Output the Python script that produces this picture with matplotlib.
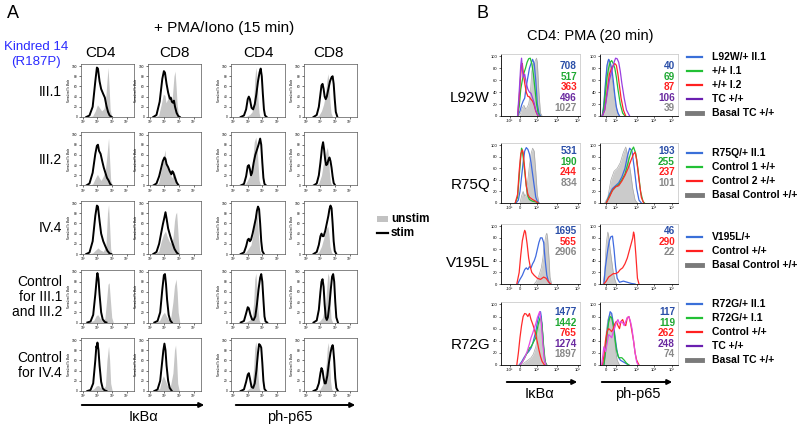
import matplotlib
matplotlib.use("Agg")
import matplotlib.pyplot as plt
from matplotlib.patches import FancyArrowPatch, Rectangle
from matplotlib.lines import Line2D

plt.rcParams["font.family"] = ["Liberation Sans", "DejaVu Sans"]

W, H = 800, 428

# -------------------------
# Panel A data (x in % of axis width, y in % of mode)
# -------------------------
A_ROWS = ["III.1", "III.2", "IV.4", "Control\nfor III.1\nand III.2", "Control\nfor IV.4"]
A_COLS = ["CD4", "CD8", "CD4", "CD8"]
A_XTICK_LABELS = ["10²", "10³", "10⁴", "10⁵"]

cd4_ikb_unstim = [
    [(12, 0), (22, 2), (27, 12), (31, 24), (35, 18), (39, 12), (43, 16), (46, 28), (49, 70), (51, 97), (53, 60), (55, 15), (58, 0)],
    [(12, 0), (22, 3), (27, 14), (31, 22), (35, 14), (38, 10), (42, 18), (46, 30), (49, 60), (52, 93), (54, 50), (56, 10), (59, 0)],
    [(12, 0), (22, 2), (28, 8), (32, 12), (36, 8), (42, 5), (47, 15), (50, 80), (52, 97), (54, 55), (56, 10), (58, 0)],
    [(14, 0), (24, 4), (29, 14), (32, 15), (36, 8), (40, 3), (45, 8), (48, 40), (51, 75), (53, 78), (55, 50), (58, 10), (61, 0)],
    [(14, 0), (24, 4), (29, 10), (33, 11), (37, 6), (41, 3), (46, 10), (49, 60), (52, 88), (54, 60), (56, 15), (59, 0)],
]
cd4_ikb_stim = [
    [(10, 0), (16, 3), (22, 20), (27, 70), (30, 97), (32, 95), (35, 70), (38, 55), (42, 45), (45, 38), (48, 22), (51, 10), (54, 3), (58, 0)],
    [(10, 0), (16, 4), (22, 25), (27, 62), (30, 78), (32, 80), (34, 68), (37, 62), (40, 48), (43, 35), (46, 25), (49, 15), (52, 10), (55, 3), (58, 0)],
    [(10, 0), (16, 3), (22, 25), (27, 75), (30, 95), (32, 93), (35, 65), (38, 40), (42, 25), (46, 15), (50, 6), (54, 1), (57, 0)],
    [(12, 0), (18, 2), (23, 15), (27, 55), (30, 90), (31, 97), (33, 85), (35, 55), (38, 20), (41, 6), (45, 1), (48, 0)],
    [(12, 0), (18, 2), (23, 15), (27, 60), (29, 88), (30, 85), (31, 95), (33, 80), (35, 50), (38, 18), (41, 5), (45, 1), (48, 0)],
]
cd8_ikb_unstim = [
    [(12, 0), (20, 3), (25, 25), (29, 45), (32, 42), (34, 28), (37, 35), (40, 38), (43, 30), (46, 40), (49, 80), (51, 90), (53, 60), (55, 25), (58, 0)],
    [(12, 0), (20, 5), (25, 30), (29, 50), (32, 70), (34, 45), (37, 35), (41, 25), (45, 15), (48, 22), (50, 25), (53, 15), (56, 3), (58, 0)],
    [(12, 0), (20, 5), (25, 25), (29, 38), (33, 45), (36, 35), (40, 25), (44, 20), (47, 30), (50, 65), (52, 78), (54, 82), (56, 50), (59, 0)],
    [(14, 0), (22, 4), (27, 15), (31, 20), (35, 12), (39, 5), (43, 10), (47, 40), (50, 72), (53, 85), (55, 60), (57, 20), (60, 0)],
    [(14, 0), (22, 5), (26, 22), (29, 30), (33, 20), (37, 10), (42, 8), (47, 35), (50, 80), (52, 90), (54, 60), (56, 15), (59, 0)],
]
cd8_ikb_stim = [
    [(10, 0), (16, 4), (22, 30), (27, 75), (30, 90), (32, 87), (35, 65), (38, 48), (41, 36), (43, 38), (45, 30), (47, 28), (49, 32), (51, 20), (54, 8), (57, 2), (60, 0)],
    [(10, 0), (16, 4), (21, 18), (25, 35), (28, 48), (31, 55), (33, 52), (35, 42), (38, 36), (41, 28), (44, 22), (46, 28), (48, 25), (51, 15), (54, 6), (58, 0)],
    [(10, 0), (16, 4), (21, 20), (25, 42), (28, 58), (31, 72), (33, 82), (35, 70), (38, 50), (42, 35), (46, 22), (50, 10), (54, 3), (57, 0)],
    [(12, 0), (18, 3), (23, 20), (27, 65), (30, 93), (32, 95), (34, 75), (36, 45), (39, 15), (42, 4), (45, 0)],
    [(12, 0), (18, 3), (23, 20), (27, 60), (29, 80), (31, 93), (33, 80), (35, 50), (38, 20), (41, 6), (45, 0)],
]
cd4_p65_unstim = [
    [(24, 0), (30, 2), (35, 5), (39, 10), (42, 30), (44, 75), (46, 97), (48, 80), (50, 35), (52, 8), (54, 0)],
    [(22, 0), (28, 5), (33, 15), (37, 25), (40, 45), (43, 85), (46, 95), (48, 80), (50, 45), (52, 10), (55, 0)],
    [(22, 0), (28, 4), (33, 12), (37, 18), (41, 40), (44, 75), (47, 85), (49, 70), (51, 35), (53, 8), (56, 0)],
    [(24, 0), (30, 2), (35, 5), (39, 10), (42, 40), (44, 85), (46, 97), (48, 70), (50, 25), (52, 5), (54, 0)],
    [(24, 0), (30, 2), (35, 6), (39, 12), (42, 45), (44, 85), (46, 97), (48, 75), (50, 30), (52, 6), (54, 0)],
]
cd4_p65_stim = [
    [(18, 0), (24, 3), (28, 15), (31, 35), (33, 40), (35, 35), (38, 18), (41, 15), (44, 25), (47, 45), (50, 70), (53, 88), (55, 95), (57, 80), (59, 45), (61, 15), (63, 3), (66, 0)],
    [(18, 0), (24, 3), (28, 18), (31, 38), (33, 40), (35, 32), (37, 20), (39, 25), (42, 45), (45, 60), (48, 70), (51, 80), (54, 92), (56, 80), (58, 45), (60, 15), (62, 3), (65, 0)],
    [(18, 0), (24, 3), (28, 15), (31, 28), (33, 30), (35, 25), (37, 28), (40, 40), (43, 55), (46, 70), (48, 85), (50, 93), (52, 88), (54, 60), (56, 25), (58, 6), (61, 0)],
    [(18, 0), (24, 3), (28, 18), (31, 30), (33, 28), (36, 15), (39, 6), (42, 5), (45, 12), (48, 35), (51, 65), (54, 88), (56, 95), (58, 80), (60, 45), (62, 12), (64, 2), (67, 0)],
    [(18, 0), (24, 3), (28, 18), (31, 32), (33, 35), (35, 25), (38, 8), (41, 6), (44, 15), (47, 40), (50, 75), (52, 92), (54, 90), (56, 85), (58, 55), (60, 20), (62, 4), (65, 0)],
]
cd8_p65_unstim = [
    [(22, 0), (28, 3), (33, 12), (37, 25), (40, 40), (43, 70), (45, 85), (47, 70), (49, 30), (51, 8), (54, 0)],
    [(22, 0), (28, 5), (33, 20), (36, 40), (39, 55), (42, 68), (44, 75), (46, 60), (48, 25), (50, 6), (53, 0)],
    [(22, 0), (28, 4), (33, 15), (37, 30), (40, 42), (43, 52), (45, 55), (47, 40), (49, 15), (52, 3), (55, 0)],
    [(24, 0), (30, 3), (35, 10), (38, 25), (41, 40), (43, 70), (45, 97), (47, 90), (49, 40), (51, 8), (54, 0)],
    [(24, 0), (30, 3), (35, 12), (39, 30), (42, 55), (44, 85), (46, 95), (48, 65), (50, 20), (52, 4), (55, 0)],
]
cd8_p65_stim = [
    [(18, 0), (24, 4), (28, 20), (31, 45), (33, 62), (35, 65), (37, 55), (39, 40), (41, 35), (43, 40), (46, 55), (49, 70), (52, 78), (54, 80), (56, 65), (58, 35), (60, 10), (63, 0)],
    [(18, 0), (24, 4), (28, 20), (31, 45), (34, 75), (36, 85), (38, 70), (40, 50), (42, 40), (44, 42), (46, 50), (48, 55), (50, 48), (52, 35), (54, 18), (56, 5), (59, 0)],
    [(18, 0), (24, 4), (28, 18), (31, 35), (33, 40), (35, 35), (37, 35), (40, 45), (43, 60), (46, 75), (48, 88), (50, 95), (52, 90), (54, 60), (56, 25), (58, 6), (61, 0)],
    [(18, 0), (24, 4), (28, 25), (31, 60), (33, 80), (35, 85), (37, 70), (39, 35), (41, 10), (43, 5), (45, 10), (48, 35), (51, 70), (53, 90), (55, 95), (57, 80), (59, 40), (61, 10), (64, 0)],
    [(18, 0), (24, 3), (28, 15), (31, 35), (33, 45), (35, 40), (37, 25), (39, 15), (41, 15), (44, 30), (47, 55), (50, 75), (52, 85), (54, 90), (55, 85), (57, 60), (59, 25), (61, 6), (64, 0)],
]

# -------------------------
# Panel B data
# -------------------------
B_ROWS = ["L92W", "R75Q", "V195L", "R72G"]

l92w_ikb = [
    [(21, 0), (24, 8), (26, 18), (28, 25), (30, 30), (32, 50), (34, 65), (36, 80), (38, 88), (40, 95), (42, 88), (44, 60), (46, 20), (48, 5), (50, 0)],
    [(21, 0), (23, 15), (25, 45), (27, 60), (29, 72), (31, 80), (33, 90), (35, 96), (37, 97), (39, 88), (41, 70), (43, 45), (45, 20), (47, 5), (49, 0)],
    [(21, 0), (23, 30), (25, 70), (26, 85), (27, 88), (28, 75), (30, 55), (32, 40), (34, 33), (36, 32), (38, 28), (40, 25), (42, 18), (44, 8), (46, 2), (48, 0)],
    [(21, 0), (23, 40), (25, 85), (26, 97), (27, 80), (28, 65), (30, 70), (32, 55), (34, 45), (36, 40), (38, 38), (40, 30), (42, 22), (44, 10), (46, 3), (48, 0)],
]
l92w_ikb_basal = [(22, 0), (25, 5), (27, 14), (29, 18), (31, 12), (33, 14), (35, 20), (37, 35), (39, 75), (41, 90), (42, 80), (43, 92), (45, 97), (46, 90), (48, 40), (50, 5), (52, 0)]
l92w_p65 = [
    [(3, 0), (5, 20), (7, 55), (9, 85), (11, 95), (13, 90), (15, 80), (17, 60), (19, 35), (21, 15), (23, 5), (25, 0)],
    [(3, 0), (5, 15), (7, 40), (9, 65), (11, 80), (13, 90), (15, 93), (17, 88), (19, 80), (21, 65), (23, 45), (26, 20), (29, 5), (32, 0)],
    [(3, 0), (6, 10), (9, 40), (12, 70), (15, 80), (17, 85), (19, 88), (21, 85), (23, 70), (25, 50), (27, 30), (30, 10), (33, 0)],
    [(3, 0), (6, 10), (9, 35), (12, 60), (15, 75), (18, 90), (20, 97), (22, 96), (24, 90), (26, 75), (28, 55), (31, 30), (34, 10), (38, 0)],
]
l92w_p65_basal = [(2, 0), (4, 10), (6, 40), (8, 70), (10, 92), (12, 95), (14, 80), (16, 60), (18, 40), (20, 20), (22, 8), (25, 0)]

r75q_ikb = [
    [(19, 0), (22, 5), (24, 20), (26, 45), (28, 70), (30, 90), (32, 96), (34, 93), (36, 85), (38, 70), (40, 50), (42, 30), (44, 10), (46, 3), (48, 0)],
    [(18, 0), (21, 10), (23, 45), (25, 80), (26, 95), (27, 90), (28, 80), (30, 55), (32, 30), (34, 12), (36, 6), (40, 3), (44, 2), (47, 0)],
    [(18, 0), (21, 15), (23, 55), (25, 85), (27, 92), (28, 88), (30, 60), (32, 30), (34, 15), (36, 10), (40, 6), (44, 3), (47, 0)],
]
r75q_ikb_basal = [(24, 0), (26, 12), (28, 20), (30, 12), (32, 15), (34, 40), (36, 65), (38, 85), (40, 95), (42, 90), (44, 55), (46, 15), (48, 0)]
r75q_p65 = [
    [(8, 0), (12, 15), (16, 25), (20, 30), (24, 35), (28, 45), (32, 60), (35, 80), (38, 95), (41, 90), (44, 60), (47, 25), (50, 5), (53, 0)],
    [(8, 0), (12, 12), (16, 22), (20, 28), (24, 32), (28, 40), (32, 50), (36, 70), (40, 90), (43, 97), (46, 85), (49, 55), (52, 20), (55, 3), (57, 0)],
    [(8, 0), (12, 10), (16, 22), (20, 28), (24, 30), (28, 38), (32, 48), (36, 60), (40, 75), (43, 85), (45, 88), (47, 75), (50, 40), (53, 10), (56, 0)],
]
r75q_p65_basal = [(6, 0), (10, 10), (14, 40), (18, 55), (22, 60), (26, 70), (30, 88), (33, 97), (36, 80), (39, 55), (42, 25), (45, 5), (48, 0)]

v195l_ikb = [
    [(21, 0), (24, 8), (27, 15), (30, 25), (32, 28), (34, 25), (36, 30), (38, 28), (40, 35), (42, 40), (44, 48), (46, 60), (48, 72), (50, 80), (52, 80), (54, 72), (56, 40), (58, 15), (60, 5), (62, 0)],
    [(20, 0), (23, 20), (25, 50), (27, 75), (29, 88), (30, 93), (31, 90), (33, 70), (35, 45), (37, 30), (39, 20), (42, 15), (46, 10), (50, 8), (54, 12), (57, 10), (60, 4), (63, 0)],
]
v195l_ikb_basal = [(42, 0), (45, 5), (48, 15), (51, 28), (53, 45), (55, 70), (57, 85), (58, 88), (59, 80), (61, 40), (62, 12), (64, 0)]
v195l_p65 = [
    [(5, 0), (7, 30), (10, 60), (12, 75), (14, 82), (16, 83), (18, 60), (20, 30), (22, 10), (25, 3), (30, 5), (35, 3), (40, 1), (45, 0)],
    [(5, 0), (8, 5), (11, 12), (14, 15), (17, 18), (20, 18), (23, 20), (26, 25), (29, 28), (32, 35), (35, 45), (38, 60), (40, 70), (42, 80), (43, 90), (44, 85), (46, 50), (48, 10), (50, 0)],
]
v195l_p65_basal = [(4, 0), (6, 20), (8, 70), (10, 90), (11, 85), (13, 60), (15, 40), (17, 20), (19, 8), (21, 0)]

r72g_ikb = [
    [(23, 0), (26, 5), (29, 12), (32, 18), (35, 22), (38, 28), (40, 35), (42, 45), (44, 55), (46, 70), (48, 82), (50, 88), (51, 80), (53, 45), (55, 10), (57, 0)],
    [(24, 0), (27, 5), (30, 12), (33, 20), (36, 28), (38, 30), (40, 35), (42, 40), (44, 45), (46, 60), (48, 72), (50, 80), (52, 65), (54, 30), (56, 5), (58, 0)],
    [(20, 0), (22, 20), (24, 45), (26, 65), (28, 80), (30, 85), (32, 84), (34, 80), (36, 85), (38, 75), (40, 68), (42, 60), (44, 50), (46, 38), (48, 25), (50, 14), (52, 6), (55, 0)],
    [(24, 0), (27, 5), (30, 12), (33, 22), (36, 35), (38, 45), (40, 52), (42, 60), (44, 68), (46, 78), (48, 85), (49, 88), (51, 70), (53, 35), (55, 8), (57, 0)],
]
r72g_ikb_basal = [(25, 0), (30, 4), (34, 8), (38, 12), (41, 18), (44, 30), (46, 45), (48, 65), (50, 80), (52, 70), (54, 30), (56, 5), (58, 0)]
r72g_p65 = [
    [(5, 0), (7, 25), (9, 55), (11, 75), (13, 88), (15, 85), (17, 70), (19, 50), (21, 30), (23, 15), (26, 8), (30, 5), (34, 2), (37, 0)],
    [(5, 0), (7, 20), (9, 50), (11, 70), (13, 80), (15, 78), (17, 65), (19, 45), (21, 25), (24, 12), (28, 12), (31, 8), (34, 3), (37, 0)],
    [(3, 0), (5, 15), (7, 40), (9, 55), (11, 60), (13, 58), (15, 55), (17, 60), (19, 68), (21, 72), (23, 65), (25, 60), (27, 72), (29, 75), (31, 68), (33, 65), (35, 78), (37, 80), (39, 70), (41, 55), (43, 40), (45, 20), (47, 8), (50, 0)],
    [(2, 0), (4, 20), (5, 30), (7, 22), (9, 35), (11, 50), (13, 48), (15, 45), (17, 55), (19, 62), (21, 70), (23, 75), (25, 68), (27, 72), (29, 70), (31, 65), (33, 72), (35, 78), (37, 80), (39, 72), (41, 60), (43, 40), (45, 20), (47, 5), (49, 0)],
]
r72g_p65_basal = [(4, 0), (6, 20), (8, 55), (10, 75), (12, 82), (14, 85), (16, 75), (18, 50), (20, 25), (22, 8), (25, 0)]

# MFI numbers shown in each panel
l92w_ikb_mfi = ["708", "517", "363", "496", "1027"]
l92w_p65_mfi = ["40", "69", "87", "106", "39"]
r75q_ikb_mfi = ["531", "190", "244", "834"]
r75q_p65_mfi = ["193", "255", "237", "101"]
v195l_ikb_mfi = ["1695", "565", "2906"]
v195l_p65_mfi = ["46", "290", "22"]
r72g_ikb_mfi = ["1477", "1442", "765", "1274", "1897"]
r72g_p65_mfi = ["117", "119", "262", "248", "74"]

l92w_legend = ["L92W/+ II.1", "+/+ I.1", "+/+ I.2", "TC +/+", "Basal TC +/+"]
r75q_legend = ["R75Q/+ II.1", "Control 1 +/+", "Control 2 +/+", "Basal Control +/+"]
v195l_legend = ["V195L/+", "Control +/+", "Basal Control +/+"]
r72g_legend = ["R72G/+ II.1", "R72G/+ I.1", "Control +/+", "TC +/+", "Basal TC +/+"]

# -------------------------
# Colours
# -------------------------
BLUE, GREEN, RED, PURPLE, GRAY = "#3f6ae0", "#22c035", "#ff2a2a", "#9a3fe0", "#808080"
MAGENTA = "#e64ae6"
NUM_COLORS = {"blue": "#2b4fa8", "green": "#1fa832", "red": "#ff1f1f", "purple": "#6a2aa0", "gray": "#888888"}
LEG_COLORS = {"blue": "#3a6fd8", "green": "#22c035", "red": "#ff2020", "purple": "#6a1fb0", "gray": "#7a7a7a"}


def px_axes(fig, x0, x1, y0, y1):
    return fig.add_axes([x0 / W, 1 - y1 / H, (x1 - x0) / W, (y1 - y0) / H])


def fx(x):
    return x / W


def fy(y):
    return 1 - y / H


def fig_arrow(fig, x0, x1, y):
    fig.add_artist(FancyArrowPatch((fx(x0), fy(y)), (fx(x1), fy(y)), transform=fig.transFigure,
                                   arrowstyle="-|>", mutation_scale=7, lw=1.4, color="black"))


def style_a(ax):
    ax.set_xlim(0, 100)
    ax.set_ylim(0, 104)
    ax.set_xticks([4, 31, 58, 86])
    ax.set_xticklabels(A_XTICK_LABELS)
    ax.set_yticks([0, 20, 40, 60, 80, 100])
    ax.tick_params(labelsize=2.3, length=1.5, width=0.4, pad=1)
    ax.set_ylabel("Normalized To Mode", fontsize=1.8, labelpad=1)
    for s in ax.spines.values():
        s.set_linewidth(0.5)
        s.set_color("#555555")


def style_b(ax, ticks, labels):
    ax.set_xlim(0, 100)
    ax.set_ylim(0, 104)
    ax.set_xticks(ticks)
    ax.set_xticklabels(labels)
    ax.set_yticks([0, 20, 40, 60, 80, 100])
    ax.tick_params(labelsize=3, length=1.5, width=0.4, pad=1)
    for side in ["top", "right"]:
        ax.spines[side].set_color("#cccccc")
        ax.spines[side].set_linewidth(0.6)
    for side in ["left", "bottom"]:
        ax.spines[side].set_linewidth(0.6)


fig = plt.figure(figsize=(8, 4.28), dpi=100)

# -------------------------
# Panel A
# -------------------------
fig.text(fx(7), fy(14), "A", fontsize=13, ha="left", va="center")
fig.text(fx(224), fy(28), "+ PMA/Iono (15 min)", fontsize=11, ha="center", va="center")
fig.text(fx(36), fy(47), "Kindred 14", fontsize=9.5, color="#2a2aff", ha="center", va="center")
fig.text(fx(36), fy(62), "(R187P)", fontsize=9.5, color="#2a2aff", ha="center", va="center")

a_cols_x = [(81, 134), (148, 201), (231, 285), (304, 357)]
a_head_x = [100, 175, 258, 328]
a_row_top = [64, 132.5, 201, 269.5, 338]
a_h = 53
a_unstim = [cd4_ikb_unstim, cd8_ikb_unstim, cd4_p65_unstim, cd8_p65_unstim]
a_stim = [cd4_ikb_stim, cd8_ikb_stim, cd4_p65_stim, cd8_p65_stim]

for c, name in enumerate(A_COLS):
    fig.text(fx(a_head_x[c]), fy(53), name, fontsize=11, ha="center", va="center")

for r, label in enumerate(A_ROWS):
    top = a_row_top[r]
    fig.text(fx(62), fy(top + a_h / 2 + 1), label, fontsize=10, ha="right", va="center",
             multialignment="right", linespacing=1.05)
    for c in range(4):
        x0, x1 = a_cols_x[c]
        ax = px_axes(fig, x0, x1, top, top + a_h)
        ux, uy = zip(*a_unstim[c][r])
        ax.fill_between(ux, uy, color="#c6c6c6", lw=0)
        sx, sy = zip(*a_stim[c][r])
        ax.plot(sx, sy, color="black", lw=1.4)
        style_a(ax)

fig_arrow(fig, 79, 207, 405)
fig_arrow(fig, 233, 358, 405)
fig.text(fx(144), fy(417), "IκBα", fontsize=10.5, ha="center", va="center")
fig.text(fx(290), fy(417), "ph-p65", fontsize=10.5, ha="center", va="center")

# unstim / stim key
fig.add_artist(Rectangle((fx(377), fy(222)), fx(11), 6 / H, transform=fig.transFigure,
                         color="#c2c2c2", lw=0))
fig.add_artist(Line2D([fx(377), fx(388)], [fy(233), fy(233)], transform=fig.transFigure,
                      color="black", lw=1.6))
fig.text(fx(391), fy(219), "unstim", fontsize=8.5, fontweight="bold", ha="left", va="center")
fig.text(fx(391), fy(233), "stim", fontsize=8.5, fontweight="bold", ha="left", va="center")

# -------------------------
# Panel B
# -------------------------
fig.text(fx(476), fy(14), "B", fontsize=13, ha="left", va="center")
fig.text(fx(590), fy(36), "CD4: PMA (20 min)", fontsize=10.5, ha="center", va="center")

b_box1 = (501, 580)
b_box2 = (600, 678)
b_rows_y = [(54, 116), (143, 203), (224, 284), (302, 365)]
b_label_y = [98, 185, 263, 345]
b_ikb_ticks = ([11, 24, 45, 71, 97], ["-10³", "0", "10³", "10⁴", "10⁵"])
b_p65_ticks = ([8, 20, 47, 69, 92], ["0", "10²", "10³", "10⁴", "10⁵"])

b_ikb = [l92w_ikb, r75q_ikb, v195l_ikb, r72g_ikb]
b_ikb_basal = [l92w_ikb_basal, r75q_ikb_basal, v195l_ikb_basal, r72g_ikb_basal]
b_p65 = [l92w_p65, r75q_p65, v195l_p65, r72g_p65]
b_p65_basal = [l92w_p65_basal, r75q_p65_basal, v195l_p65_basal, r72g_p65_basal]
b_ikb_mfi = [l92w_ikb_mfi, r75q_ikb_mfi, v195l_ikb_mfi, r72g_ikb_mfi]
b_p65_mfi = [l92w_p65_mfi, r75q_p65_mfi, v195l_p65_mfi, r72g_p65_mfi]
b_legend = [l92w_legend, r75q_legend, v195l_legend, r72g_legend]
b_keys = [
    ["blue", "green", "red", "purple", "gray"],
    ["blue", "green", "red", "gray"],
    ["blue", "red", "gray"],
    ["blue", "green", "red", "purple", "gray"],
]
b_line_colors = [
    [BLUE, GREEN, RED, PURPLE],
    [BLUE, GREEN, RED],
    [BLUE, RED],
    [BLUE, GREEN, RED, MAGENTA],
]
b_num_top = [66, 151, 231, 312]
b_leg_top = [57, 153, 237, 304]

for r, label in enumerate(B_ROWS):
    y0, y1 = b_rows_y[r]
    fig.text(fx(490), fy(b_label_y[r]), label, fontsize=11, ha="right", va="center")
    panels = [
        (b_box1, b_ikb[r], b_ikb_basal[r], b_ikb_mfi[r], b_ikb_ticks),
        (b_box2, b_p65[r], b_p65_basal[r], b_p65_mfi[r], b_p65_ticks),
    ]
    for (x0, x1), curves, basal, mfi, ticks in panels:
        ax = px_axes(fig, x0, x1, y0, y1)
        bx, by = zip(*basal)
        ax.fill_between(bx, by, color="#cbcbcb", lw=0)
        ax.plot(bx, by, color="#a8a8a8", lw=0.5)
        for pts, col in zip(curves, b_line_colors[r]):
            cx, cy = zip(*pts)
            ax.plot(cx, cy, color=col, lw=0.9)
        style_b(ax, *ticks)
        for i, (txt, key) in enumerate(zip(mfi, b_keys[r])):
            fig.text(fx(x1 - 3), fy(b_num_top[r] + i * 10.6), txt, fontsize=7.2,
                     fontweight="bold", color=NUM_COLORS[key], ha="right", va="center")
    # legend
    for i, (txt, key) in enumerate(zip(b_legend[r], b_keys[r])):
        yy = b_leg_top[r] + i * 14
        lw = 3.5 if key == "gray" else 1.6
        fig.add_artist(Line2D([fx(687), fx(702)], [fy(yy), fy(yy)], transform=fig.transFigure,
                              color=LEG_COLORS[key], lw=lw))
        fig.text(fx(712), fy(yy), txt, fontsize=7.5, fontweight="bold", ha="left", va="center")

fig_arrow(fig, 504, 580, 382)
fig_arrow(fig, 599, 675, 382)
fig.text(fx(540), fy(394), "IκBα", fontsize=10.5, ha="center", va="center")
fig.text(fx(638), fy(394), "ph-p65", fontsize=10.5, ha="center", va="center")

fig.savefig("out.png", dpi=100)
